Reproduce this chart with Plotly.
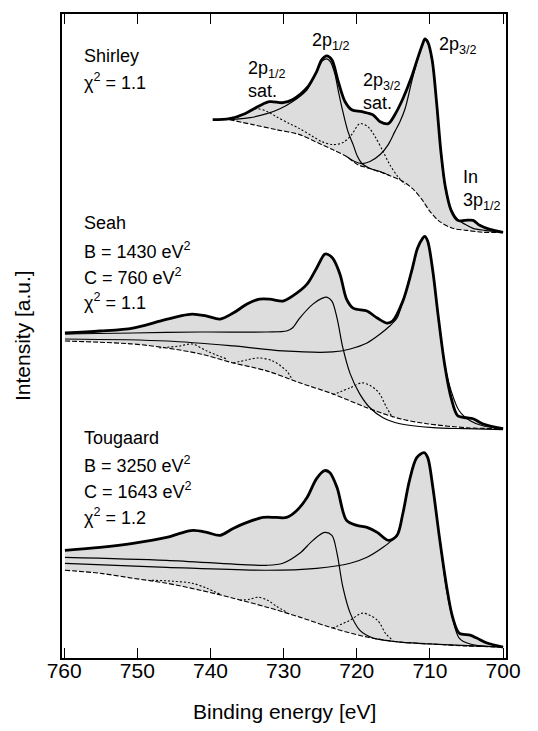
import plotly.graph_objects as go

# ---------------- data (binding energy in eV, intensity in a.u.) ----------------
# Shirley panel
sh_env_e = [739.7, 737.4, 735.3, 733.3, 731.9, 730.1, 728.8, 726.8, 725.5, 724.8, 724.1, 723.4, 722.6, 721.6,
            720.7, 719.3, 717.8, 716.8, 715.7, 714.8, 713.7, 712.5, 711.7, 711.0, 710.7, 710.3, 709.7, 709.1,
            708.5, 707.9, 707.1, 706.2, 705.2, 704.1, 703.2, 701.8, 700.0]
sh_env_i = [540, 541, 546, 554, 558, 557, 560, 572, 588, 600, 604, 600, 580, 558,
            550, 548, 545, 538, 536, 545, 561, 583, 601, 616, 621, 618, 600, 558,
            508, 473, 449, 439, 439, 439, 434, 430, 427]
sh_bg_e = [737.4, 734.2, 731.0, 727.8, 725.1, 723.3, 721.4, 719.9, 718.2, 715.9, 713.7, 712.4, 711.1, 710.0,
           708.7, 706.9, 705.0, 702.8, 700.0]
sh_bg_i = [540, 535, 530, 525, 516, 510, 503, 495, 491, 485, 478, 471, 460, 448,
           438, 431, 429, 427, 427]
sh_p12_e = [737.4, 734.6, 732.3, 730.5, 728.8, 726.8, 725.5, 724.7, 724.1, 723.6, 723.0, 722.5, 721.9, 721.2,
            720.5, 719.9, 719.3, 718.2, 716.8, 715.5]
sh_p12_i = [540, 542, 546, 551, 558, 570, 588, 599, 601, 598, 586, 568, 548, 528,
            515, 503, 496, 491, 488, 484]
sh_p32_e = [721.4, 720.3, 719.3, 718.2, 716.8, 715.7, 714.8, 714.1, 713.4, 712.5, 711.7, 711.0, 710.7, 710.3,
            709.7, 709.1, 708.5, 707.9, 707.1, 706.2, 705.2, 704.1, 702.5, 700.0]
sh_p32_i = [503, 498, 496, 498, 505, 515, 528, 538, 551, 578, 600, 615, 620, 617,
            599, 557, 507, 471, 450, 440, 435, 431, 429, 427]
sh_sat_e = [736.9, 735.3, 733.7, 732.2, 731.0, 729.2, 727.8, 726.2, 724.8, 723.3, 721.9, 720.7, 719.6, 718.5,
            717.5, 716.4, 715.5, 714.4, 713.4]
sh_sat_i = [540, 546, 551, 548, 543, 536, 531, 524, 518, 515, 517, 525, 536, 533,
            523, 508, 495, 483, 475]

# Seah panel
se_env_e = [759.9, 755.1, 750.6, 746.9, 744.2, 742.5, 740.5, 738.7, 736.9, 735.0, 733.3, 731.9, 730.1, 728.8,
            726.8, 725.5, 724.4, 724.0, 723.3, 722.3, 721.4, 720.5, 718.6, 717.2, 715.9, 715.1, 713.7, 712.5,
            711.7, 711.0, 710.7, 710.3, 709.6, 708.9, 708.0, 707.1, 706.2, 705.0, 704.1, 702.8, 700.0]
se_env_i = [326, 328, 331, 338, 343, 345, 343, 340, 346, 355, 360, 360, 358, 363,
            375, 391, 405, 405, 401, 385, 360, 351, 348, 341, 336, 338, 358, 388,
            411, 421, 423, 418, 388, 345, 295, 261, 243, 241, 240, 235, 230]
se_bg_e = [759.9, 750.6, 746.0, 741.4, 736.9, 732.3, 727.8, 723.3, 718.6, 714.1, 710.4, 705.0, 700.0]
se_bg_i = [318, 315, 311, 305, 296, 288, 276, 265, 251, 240, 235, 231, 230]
se_p12_e = [759.9, 750.6, 741.4, 732.3, 729.6, 728.8, 727.8, 726.0, 724.7, 724.1, 723.4, 722.7, 721.9, 720.9,
            719.6, 718.2, 716.4, 714.1, 709.6, 705.0, 700.0]
se_p12_i = [325, 326, 327, 327, 328, 331, 341, 355, 361, 362, 358, 341, 311, 285,
            265, 251, 241, 235, 231, 230, 229]
se_p32_e = [759.9, 746.0, 736.9, 730.1, 723.3, 720.9, 718.6, 716.8, 715.5, 714.5, 713.7, 712.5, 711.7, 711.0,
            710.7, 710.3, 709.6, 708.9, 708.0, 707.1, 706.0, 704.5, 702.8, 700.0]
se_p32_i = [320, 318, 313, 308, 307, 310, 316, 325, 333, 341, 358, 388, 411, 421,
            423, 418, 388, 345, 295, 268, 248, 238, 233, 230]
se_sat1_e = [747.0, 744.2, 742.5, 740.5, 737.8]
se_sat1_i = [311, 313, 315, 308, 300]
se_sat2_e = [736.9, 735.0, 733.5, 731.5, 729.6, 728.8]
se_sat2_i = [296, 299, 301, 298, 288, 279]
se_sat3_e = [723.3, 720.9, 719.2, 717.2, 715.9, 715.1]
se_sat3_i = [264, 271, 276, 268, 251, 241]

# Tougaard panel
to_env_e = [759.9, 755.1, 750.6, 746.0, 744.2, 742.4, 740.5, 738.7, 736.9, 735.0, 732.8, 731.0, 729.6, 728.2,
            726.8, 725.5, 724.4, 723.7, 722.7, 721.4, 720.0, 718.6, 717.2, 715.7, 714.5, 713.7, 712.8, 711.8,
            710.8, 710.3, 709.6, 708.7, 707.7, 706.9, 706.0, 704.5, 703.6, 702.2, 700.0]
to_env_i = [108, 111, 115, 121, 125, 128, 126, 123, 130, 136, 141, 141, 141, 148,
            161, 180, 188, 186, 171, 138, 133, 131, 126, 118, 123, 145, 178, 201,
            206, 201, 171, 121, 71, 41, 25, 23, 20, 15, 11]
to_bg_e = [759.9, 755.1, 750.6, 746.0, 741.4, 736.9, 732.3, 727.8, 723.3, 718.6, 714.1, 709.6, 705.0, 700.0]
to_bg_i = [88, 85, 80, 75, 68, 60, 51, 41, 30, 21, 16, 14, 12, 11]
to_p12_e = [759.9, 746.0, 732.3, 730.1, 727.8, 726.0, 724.4, 723.4, 722.7, 721.9, 720.9, 719.6, 717.8, 716.4,
            714.1, 709.6, 700.0]
to_p12_i = [101, 98, 93, 95, 105, 118, 126, 123, 105, 71, 45, 28, 20, 18,
            16, 14, 11]
to_p32_e = [759.9, 746.0, 732.3, 725.5, 720.9, 718.6, 716.4, 715.2, 714.5, 713.7, 712.8, 711.8, 710.8, 710.3,
            709.6, 708.7, 707.7, 706.9, 706.0, 704.5, 700.0]
to_p32_i = [95, 91, 88, 90, 95, 101, 111, 118, 123, 145, 178, 201, 206, 201,
            171, 121, 67, 40, 20, 14, 11]
to_sat1_e = [748.0, 745.1, 742.5, 740.5, 738.7]
to_sat1_i = [78, 77, 75, 70, 64]
to_sat2_e = [736.0, 734.6, 733.5, 732.2, 731.0, 729.6]
to_sat2_i = [58, 59, 61, 58, 52, 46]
to_sat3_e = [723.3, 720.9, 719.2, 717.2, 716.0, 715.1]
to_sat3_i = [30, 38, 45, 38, 24, 18]

x_ticks = [760, 750, 740, 730, 720, 710, 700]

# ---------------- figure ----------------
FONT = "Liberation Sans, Arial, Helvetica, sans-serif"
FILL = "rgb(221,221,221)"
SM = 0.9

fig = go.Figure()


def add_fill(bg_e, bg_i, env_e, env_i):
    e0 = bg_e[0]
    sub = [(e, v) for e, v in zip(env_e, env_i) if e <= e0 + 1e-9]
    fig.add_trace(go.Scatter(x=bg_e, y=bg_i, mode="lines", hoverinfo="skip",
                             line=dict(width=0, shape="spline", smoothing=SM)))
    fig.add_trace(go.Scatter(x=[p[0] for p in sub], y=[p[1] for p in sub], mode="lines",
                             hoverinfo="skip", fill="tonexty", fillcolor=FILL,
                             line=dict(width=0, shape="spline", smoothing=SM)))


def add_line(e, v, dash="solid", width=1.1):
    fig.add_trace(go.Scatter(x=e, y=v, mode="lines", hoverinfo="skip",
                             line=dict(color="black", width=width, dash=dash,
                                       shape="spline", smoothing=SM)))


add_fill(sh_bg_e, sh_bg_i, sh_env_e, sh_env_i)
add_fill(se_bg_e, se_bg_i, se_env_e, se_env_i)
add_fill(to_bg_e, to_bg_i, to_env_e, to_env_i)

DASH = "5px,2px"
DOT = "2px,2px"
for bg_e, bg_i in [(sh_bg_e, sh_bg_i), (se_bg_e, se_bg_i), (to_bg_e, to_bg_i)]:
    add_line(bg_e, bg_i, dash=DASH, width=1.1)

for e, v in [(sh_sat_e, sh_sat_i), (se_sat1_e, se_sat1_i), (se_sat2_e, se_sat2_i), (se_sat3_e, se_sat3_i),
             (to_sat1_e, to_sat1_i), (to_sat2_e, to_sat2_i), (to_sat3_e, to_sat3_i)]:
    add_line(e, v, dash=DOT, width=1.1)

for e, v in [(sh_p12_e, sh_p12_i), (sh_p32_e, sh_p32_i), (se_p12_e, se_p12_i), (se_p32_e, se_p32_i),
             (to_p12_e, to_p12_i), (to_p32_e, to_p32_i)]:
    add_line(e, v, width=1.2)

for e, v in [(sh_env_e, sh_env_i), (se_env_e, se_env_i), (to_env_e, to_env_i)]:
    add_line(e, v, width=2.8)

TS = 18
ann = []


def label(x, y, text, xanchor="left", size=TS, align="left"):
    ann.append(dict(x=x, y=y, xref="x", yref="y", text=text, showarrow=False, xanchor=xanchor,
                    yanchor="middle", align=align, font=dict(family=FONT, size=size, color="black")))


LX = 757.5
label(LX, 604, "Shirley")
label(LX, 578, "χ<sup>2</sup> = 1.1")
label(735.2, 580, "2p<sub>1/2</sub><br>sat.")
label(726.4, 618, "2p<sub>1/2</sub>")
label(719.4, 568, "2p<sub>3/2</sub><br>sat.")
label(709.1, 614, "2p<sub>3/2</sub>")
label(705.8, 469, "In<br>3p<sub>1/2</sub>")

label(LX, 436, "Seah")
label(LX, 409, "B = 1430 eV<sup>2</sup>")
label(LX, 383, "C = 760 eV<sup>2</sup>")
label(LX, 358, "χ<sup>2</sup> = 1.1")

label(LX, 221, "Tougaard")
label(LX, 194, "B = 3250 eV<sup>2</sup>")
label(LX, 168, "C = 1643 eV<sup>2</sup>")
label(LX, 142, "χ<sup>2</sup> = 1.2")

ann.append(dict(x=0.5, y=-0.083, xref="paper", yref="paper", text="Binding energy [eV]", showarrow=False,
                xanchor="center", yanchor="middle", font=dict(family=FONT, size=21, color="black")))
ann.append(dict(x=-0.09, y=0.5, xref="paper", yref="paper", text="Intensity [a.u.]", showarrow=False,
                textangle=-90, xanchor="center", yanchor="middle",
                font=dict(family=FONT, size=21, color="black")))

fig.update_layout(
    width=538, height=731,
    margin=dict(l=62, r=32, t=12, b=73),
    plot_bgcolor="white", paper_bgcolor="white",
    showlegend=False,
    annotations=ann,
    xaxis=dict(range=[760.3, 699.6], tickvals=x_ticks, ticktext=[str(t) for t in x_ticks],
               ticks="inside", ticklen=10, tickwidth=1.3, tickcolor="black",
               showline=True, linewidth=1.5, linecolor="black", mirror="ticks",
               showgrid=False, zeroline=False, ticklabelstandoff=-7,
               tickfont=dict(family=FONT, size=21, color="black")),
    yaxis=dict(range=[0, 646], showticklabels=False, ticks="", showline=True, linewidth=1.5,
               linecolor="black", mirror=True, showgrid=False, zeroline=False),
)

fig.write_html("out.html")
